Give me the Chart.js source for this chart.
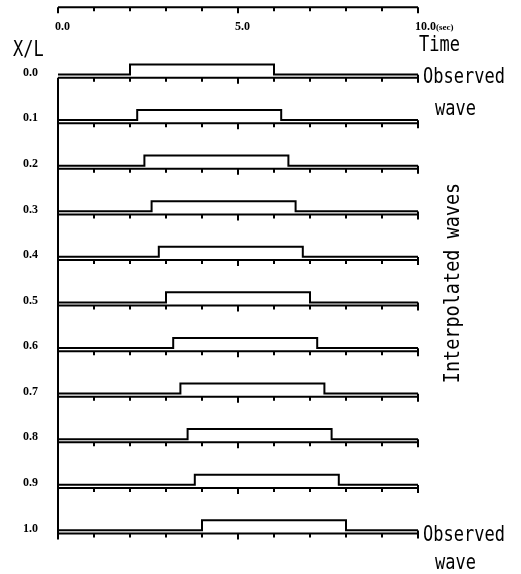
<!DOCTYPE html>
<html>
<head>
<meta charset="utf-8">
<script src="https://cdn.jsdelivr.net/npm/chart.js@4/dist/chart.umd.min.js"></script>
<style>
  html, body { margin: 0; padding: 0; background: #fff; }
  #wrap { position: relative; width: 521px; height: 574px; }
</style>
</head>
<body>
<div id="wrap"><canvas id="waveChart"></canvas></div>
<script>
// x/L positions of the rows, top to bottom
var rowLabels = ['0.0', '0.1', '0.2', '0.3', '0.4', '0.5', '0.6', '0.7', '0.8', '0.9', '1.0'];
// time (sec) where each pulse goes up and comes down
var riseTimes = [2.0, 2.2, 2.4, 2.6, 2.8, 3.0, 3.2, 3.4, 3.6, 3.8, 4.0];
var fallTimes = [6.0, 6.2, 6.4, 6.6, 6.8, 7.0, 7.2, 7.4, 7.6, 7.8, 8.0];
// time axis
var timeTicks = [0, 1, 2, 3, 4, 5, 6, 7, 8, 9, 10];
var timeLabelValues = [0, 5, 10];
var timeLabelTexts = ['0.0', '5.0', '10.0'];
// wave levels above each row's base line (row units)
var lowLevel = 0.07;
var highLevel = 0.29;

var tStart = timeTicks[0];
var tEnd = timeTicks[timeTicks.length - 1];

function waveData(i) {
    var lo = i - lowLevel, hi = i - highLevel;
    return [
        {x: tStart, y: lo},
        {x: riseTimes[i], y: lo},
        {x: riseTimes[i], y: hi},
        {x: fallTimes[i], y: hi},
        {x: fallTimes[i], y: lo},
        {x: tEnd, y: lo}
    ];
}

var datasets = rowLabels.map(function (lab, i) {
    return {
        label: 'x/L ' + lab,
        data: waveData(i),
        borderColor: '#000',
        borderWidth: 2,
        pointRadius: 0,
        tension: 0,
        fill: false
    };
});

function stretchText(ctx, str, x, y, sy) {
    ctx.save();
    ctx.translate(x, y);
    ctx.scale(1, sy);
    ctx.fillText(str, 0, 0);
    ctx.restore();
}

var framePlugin = {
    id: 'frame',
    afterDatasetsDraw: function (chart) {
        var ctx = chart.ctx;
        var xs = chart.scales.x, ys = chart.scales.y;
        var x0 = xs.getPixelForValue(tStart), x1 = xs.getPixelForValue(tEnd);
        var top = chart.chartArea.top;
        ctx.save();
        ctx.strokeStyle = '#000';
        ctx.fillStyle = '#000';
        ctx.lineWidth = 2;

        // time axis on top, ticks pointing down
        ctx.beginPath();
        ctx.moveTo(x0, top);
        ctx.lineTo(x1, top);
        timeTicks.forEach(function (t) {
            var px = xs.getPixelForValue(t);
            ctx.moveTo(px, top);
            ctx.lineTo(px, top + (t % 5 === 0 ? 6 : 4));
        });
        ctx.stroke();

        // base line of every row
        rowLabels.forEach(function (lab, i) {
            var py = ys.getPixelForValue(i);
            ctx.beginPath();
            ctx.moveTo(x0, py);
            ctx.lineTo(x1, py);
            timeTicks.forEach(function (t) {
                var px = xs.getPixelForValue(t);
                if (t === tStart) return;
                if (t === tEnd) {
                    ctx.moveTo(px, py - 3);
                    ctx.lineTo(px, py + 5);
                } else {
                    ctx.moveTo(px, py);
                    ctx.lineTo(px, py + (t === 5 ? 6 : 4));
                }
            });
            ctx.stroke();
        });

        // left line
        ctx.beginPath();
        ctx.moveTo(x0, ys.getPixelForValue(0));
        ctx.lineTo(x0, ys.getPixelForValue(rowLabels.length - 1) + 6);
        ctx.stroke();

        // time labels
        ctx.textAlign = 'left';
        ctx.textBaseline = 'alphabetic';
        ctx.font = 'bold 12px "Liberation Serif"';
        timeLabelValues.forEach(function (v, k) {
            var px = xs.getPixelForValue(v);
            ctx.fillText(timeLabelTexts[k], px - 3, 30);
        });
        var w10 = ctx.measureText(timeLabelTexts[2]).width;
        ctx.font = 'bold 9px "Liberation Serif"';
        ctx.fillText('(sec)', xs.getPixelForValue(tEnd) - 3 + w10, 30);

        // side notes
        ctx.font = '17px "DejaVu Sans Mono"';
        stretchText(ctx, 'X/L', 13, 56, 1.25);
        stretchText(ctx, 'Time', x1 + 1, 51, 1.2);
        stretchText(ctx, 'Observed', x1 + 5, ys.getPixelForValue(0) + 5, 1.2);
        stretchText(ctx, 'wave', x1 + 17, ys.getPixelForValue(0) + 37, 1.2);
        stretchText(ctx, 'Observed', x1 + 5, ys.getPixelForValue(10) + 8, 1.2);
        stretchText(ctx, 'wave', x1 + 17, ys.getPixelForValue(10) + 36, 1.2);

        ctx.save();
        ctx.translate(459, 283);
        ctx.rotate(-Math.PI / 2);
        ctx.scale(1, 1.15);
        ctx.textAlign = 'center';
        ctx.font = '18.5px "DejaVu Sans Mono"';
        ctx.fillText('Interpolated waves', 0, 0);
        ctx.restore();

        ctx.restore();
    }
};

var ctx = document.getElementById('waveChart');
var waveChart = new Chart(ctx, {
    type: 'line',
    data: { datasets: datasets },
    plugins: [framePlugin],
    options: {
        responsive: true,
        maintainAspectRatio: false,
        animation: false,
        events: [],
        layout: { padding: { left: 23, right: 103, top: 7, bottom: 20 } },
        plugins: {
            legend: { display: false },
            tooltip: { enabled: false }
        },
        scales: {
            x: {
                type: 'linear',
                min: tStart,
                max: tEnd,
                display: false
            },
            y: {
                type: 'linear',
                reverse: true,
                min: -1.546,
                max: 10.45,
                grid: { display: false, drawTicks: false },
                border: { display: false },
                afterBuildTicks: function (scale) {
                    scale.ticks = rowLabels.map(function (l, i) { return {value: i}; });
                },
                afterFit: function (scale) { scale.width = 35; },
                ticks: {
                    padding: 0,
                    crossAlign: 'far',
                    labelOffset: -5,
                    color: '#000',
                    font: { family: 'Liberation Serif', size: 12, weight: 'bold' },
                    callback: function (v) { return rowLabels[v]; }
                }
            }
        }
    }
});
</script>
</body>
</html>
